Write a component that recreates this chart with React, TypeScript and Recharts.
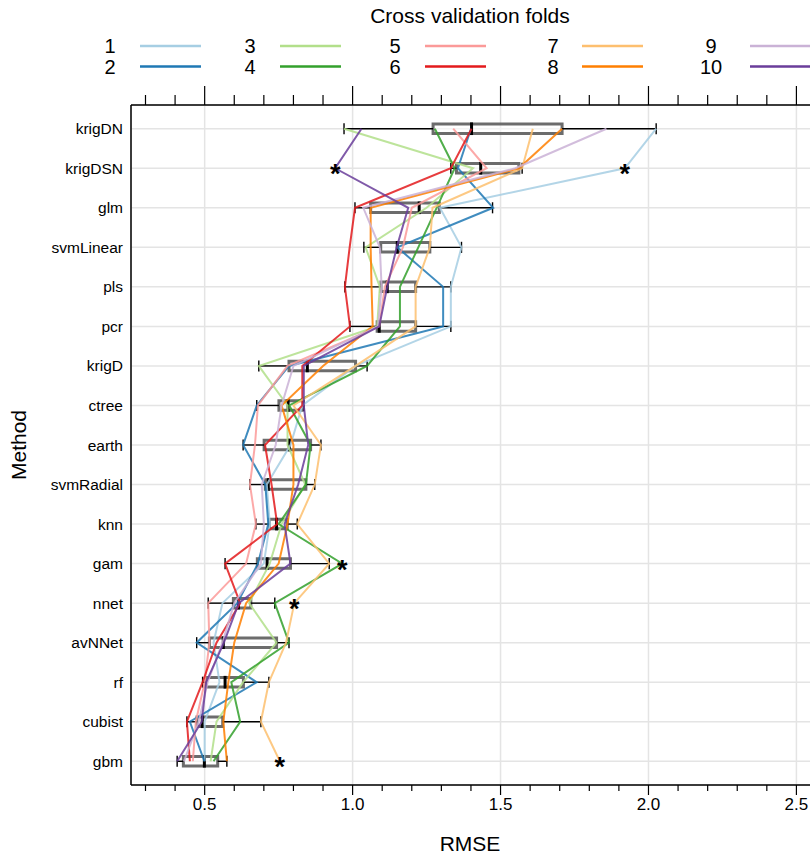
import React from 'react';
import { ScatterChart, Scatter, XAxis, YAxis, CartesianGrid, ReferenceArea, ReferenceLine } from 'recharts';

const FONT = '"Liberation Sans", Arial, Helvetica, sans-serif';

// methods, top to bottom
const methods = ['krigDN', 'krigDSN', 'glm', 'svmLinear', 'pls', 'pcr', 'krigD', 'ctree', 'earth', 'svmRadial', 'knn', 'gam', 'nnet', 'avNNet', 'rf', 'cubist', 'gbm'];

// RMSE of each cross validation fold, per method (same order as methods)
const fold1 = [2.026, 1.92, 1.295, 1.368, 1.332, 1.332, 1.01, 0.83, 0.79, 0.71, 0.72, 0.7, 0.56, 0.53, 0.55, 0.5, 0.5];
const fold2 = [1.4, 1.356, 1.475, 1.151, 1.306, 1.306, 0.785, 0.676, 0.63, 0.705, 0.715, 0.68, 0.61, 0.473, 0.676, 0.45, 0.499];
const fold3 = [0.971, 1.407, 1.25, 1.044, 1.092, 1.083, 0.683, 0.78, 0.78, 0.84, 0.76, 0.72, 0.65, 0.743, 0.63, 0.54, 0.52];
const fold4 = [1.278, 1.345, 1.284, 1.222, 1.16, 1.16, 1.049, 0.786, 0.858, 0.842, 0.75, 0.965, 0.737, 0.785, 0.59, 0.62, 0.53];
const fold5 = [1.34, 1.453, 1.2, 1.17, 1.109, 1.09, 0.78, 0.68, 0.67, 0.653, 0.673, 0.64, 0.512, 0.516, 0.5, 0.47, 0.46];
const fold6 = [1.402, 1.332, 1.008, 0.99, 0.974, 0.991, 0.83, 0.83, 0.704, 0.726, 0.745, 0.569, 0.62, 0.54, 0.493, 0.44, 0.45];
const fold7 = [1.609, 1.573, 1.27, 1.261, 1.213, 1.213, 1.01, 0.8, 0.893, 0.872, 0.813, 0.921, 0.803, 0.775, 0.717, 0.69, 0.754];
const fold8 = [1.708, 1.562, 1.061, 1.061, 1.064, 1.068, 0.9, 0.76, 0.8, 0.8, 0.78, 0.75, 0.64, 0.6, 0.58, 0.563, 0.575];
const fold9 = [1.858, 1.55, 1.036, 1.092, 1.098, 1.086, 0.8, 0.76, 0.74, 0.693, 0.7, 0.69, 0.6, 0.56, 0.51, 0.48, 0.43];
const fold10 = [1.03, 0.941, 1.188, 1.149, 1.117, 1.09, 0.835, 0.835, 0.85, 0.816, 0.77, 0.79, 0.615, 0.565, 0.505, 0.49, 0.407];

const folds = [fold1, fold2, fold3, fold4, fold5, fold6, fold7, fold8, fold9, fold10];
const foldNames = ['1', '2', '3', '4', '5', '6', '7', '8', '9', '10'];
const foldColors = ['#A6CEE3', '#1F78B4', '#B2DF8A', '#33A02C', '#FB9A99', '#E31A1C', '#FDBF6F', '#FF7F00', '#CAB2D6', '#6A3D9A'];

// box plot statistics per method
const whiskerLow = [0.971, 1.332, 1.008, 1.038, 0.974, 0.991, 0.683, 0.676, 0.63, 0.653, 0.673, 0.569, 0.512, 0.473, 0.493, 0.44, 0.407];
const lowerHinge = [1.272, 1.351, 1.061, 1.095, 1.096, 1.083, 0.785, 0.751, 0.701, 0.705, 0.718, 0.678, 0.597, 0.516, 0.505, 0.474, 0.428];
const medians = [1.402, 1.433, 1.225, 1.151, 1.117, 1.09, 0.847, 0.782, 0.786, 0.715, 0.743, 0.711, 0.614, 0.563, 0.569, 0.492, 0.499];
const upperHinge = [1.708, 1.562, 1.293, 1.261, 1.213, 1.213, 1.01, 0.833, 0.858, 0.842, 0.779, 0.79, 0.656, 0.743, 0.631, 0.561, 0.544];
const whiskerHigh = [2.026, 1.573, 1.473, 1.368, 1.332, 1.332, 1.049, 0.835, 0.893, 0.872, 0.813, 0.921, 0.737, 0.785, 0.717, 0.69, 0.575];

const outlierMethods = ['krigDSN', 'krigDSN', 'gam', 'nnet', 'gbm'];
const outlierValues = [0.941, 1.92, 0.965, 0.803, 0.754];

const xTicks = [0.3, 0.4, 0.5, 0.6, 0.7, 0.8, 0.9, 1.0, 1.1, 1.2, 1.3, 1.4, 1.5, 1.6, 1.7, 1.8, 1.9, 2.0, 2.1, 2.2, 2.3, 2.4, 2.5];
const gridTicks = [0.5, 1.0, 1.5, 2.0, 2.5];
const X_DOMAIN = [0.251, 2.6];

const posOf = (i: number) => methods.length - i;
const yTicks = methods.map((_, i) => posOf(i));

const isMajor = (v: number) => Math.abs(v * 2 - Math.round(v * 2)) < 1e-6;

function BottomTick(props: any) {
  const { x, y, payload } = props;
  const major = isMajor(payload.value);
  return (
    <g>
      <line x1={x} x2={x} y1={y} y2={y + (major ? 10 : 6)} stroke="#000" strokeWidth={1.2} />
      {major && (
        <text x={x} y={y + 19} textAnchor="middle" dominantBaseline="central" fontSize={17} fontFamily={FONT} fill="#000">
          {payload.value.toFixed(1)}
        </text>
      )}
    </g>
  );
}

function TopTick(props: any) {
  const { x, y, payload } = props;
  const major = isMajor(payload.value);
  return <line x1={x} x2={x} y1={y} y2={y - (major ? 19 : 10)} stroke="#000" strokeWidth={1.2} />;
}

function Star(props: any) {
  const { cx, cy } = props;
  return (
    <text x={cx} y={cy + 15} textAnchor="middle" fontSize={27} fontWeight="bold" fontFamily={FONT} fill="#000">*</text>
  );
}

const noMark = () => <g />;

const legendTextX = [110, 250, 395, 553, 711];
const legendLineX = [140, 280, 425, 582, 750];

export default function App() {
  const outliers = outlierValues.map((v, i) => ({ x: v, pos: posOf(methods.indexOf(outlierMethods[i])) }));
  const medianPoints = medians.map((v, i) => ({ x: v, pos: posOf(i) }));

  return (
    <div style={{ position: 'absolute', left: 0, top: 0, width: 810, height: 854, overflow: 'hidden', background: '#fff' }}>
      <ScatterChart width={880} height={854} margin={{ top: 75, right: 54, bottom: 0, left: 0 }}>
        <XAxis xAxisId="grid" type="number" dataKey="x" domain={X_DOMAIN} ticks={gridTicks} hide allowDataOverflow />
        <CartesianGrid xAxisId="grid" stroke="#e4e4e4" strokeWidth={1.5} />
        <XAxis type="number" dataKey="x" domain={X_DOMAIN} ticks={xTicks} interval={0} allowDataOverflow
          height={69} tickLine={false} tickSize={0} tickMargin={0}
          axisLine={{ stroke: '#000', strokeWidth: 1.5 }} tick={<BottomTick />} />
        <XAxis xAxisId="top" orientation="top" type="number" dataKey="x" domain={X_DOMAIN} ticks={xTicks} interval={0} allowDataOverflow
          height={30} tickLine={false} tickSize={0} tickMargin={0}
          axisLine={{ stroke: '#000', strokeWidth: 1.5 }} tick={<TopTick />} />
        <YAxis type="number" dataKey="pos" domain={[0.4, 17.6]} ticks={yTicks} interval={0} allowDataOverflow
          width={131} tickLine={false} axisLine={{ stroke: '#000', strokeWidth: 1.5 }}
          tickFormatter={(v: number) => methods[methods.length - v]}
          tick={{ fill: '#000', fontSize: 15.5, fontFamily: FONT }} />

        {/* invisible series so the top and grid axes have data attached */}
        <Scatter xAxisId="top" data={medianPoints} shape={noMark} isAnimationActive={false} />
        <Scatter xAxisId="grid" data={medianPoints} shape={noMark} isAnimationActive={false} />

        {folds.map((f, k) => (
          <Scatter key={'fold' + k} name={foldNames[k]}
            data={methods.map((_, i) => ({ x: f[i], pos: posOf(i) }))}
            fill={foldColors[k]}
            line={{ stroke: foldColors[k], strokeWidth: 2, strokeOpacity: 0.85 }}
            shape={noMark}
            isAnimationActive={false} />
        ))}

        {methods.map((m, i) => {
          const p = posOf(i);
          return (
            <React.Fragment key={m}>
              <ReferenceLine segment={[{ x: whiskerLow[i], y: p }, { x: lowerHinge[i], y: p }]} stroke="#000" strokeWidth={1.4} ifOverflow="visible" />
              <ReferenceLine segment={[{ x: upperHinge[i], y: p }, { x: whiskerHigh[i], y: p }]} stroke="#000" strokeWidth={1.4} ifOverflow="visible" />
              <ReferenceLine segment={[{ x: whiskerLow[i], y: p - 0.14 }, { x: whiskerLow[i], y: p + 0.14 }]} stroke="#000" strokeWidth={1.4} ifOverflow="visible" />
              <ReferenceLine segment={[{ x: whiskerHigh[i], y: p - 0.14 }, { x: whiskerHigh[i], y: p + 0.14 }]} stroke="#000" strokeWidth={1.4} ifOverflow="visible" />
              <ReferenceArea x1={lowerHinge[i]} x2={upperHinge[i]} y1={p - 0.12} y2={p + 0.12}
                fill="#ffffff" fillOpacity={0.55} stroke="#5c5c5c" strokeWidth={3} strokeOpacity={0.9} ifOverflow="visible" />
              <ReferenceLine segment={[{ x: medians[i], y: p - 0.16 }, { x: medians[i], y: p + 0.16 }]} stroke="#000" strokeWidth={3} ifOverflow="visible" />
            </React.Fragment>
          );
        })}

        <Scatter name="outliers" data={outliers} fill="#000" shape={(pr: any) => <Star {...pr} />} isAnimationActive={false} />
      </ScatterChart>

      <svg width={810} height={854} style={{ position: 'absolute', left: 0, top: 0, pointerEvents: 'none' }}>
        <text x={470} y={15} textAnchor="middle" dominantBaseline="central" fontSize={21} fontFamily={FONT} fill="#000">
          Cross validation folds
        </text>
        {foldNames.map((n, k) => {
          const col = Math.floor(k / 2);
          const row = k % 2;
          const yy = 46 + row * 20.5;
          return (
            <g key={n}>
              <text x={legendTextX[col]} y={yy} textAnchor="middle" dominantBaseline="central" fontSize={20} fontFamily={FONT} fill="#000">{n}</text>
              <line x1={legendLineX[col]} x2={legendLineX[col] + 61} y1={yy} y2={yy} stroke={foldColors[k]} strokeWidth={2.5} />
            </g>
          );
        })}
        <text x={18} y={445} transform="rotate(-90 18 445)" textAnchor="middle" dominantBaseline="central" fontSize={21} fontFamily={FONT} fill="#000">
          Method
        </text>
        <text x={470} y={843} textAnchor="middle" dominantBaseline="central" fontSize={21} fontFamily={FONT} fill="#000">
          RMSE
        </text>
      </svg>
    </div>
  );
}
